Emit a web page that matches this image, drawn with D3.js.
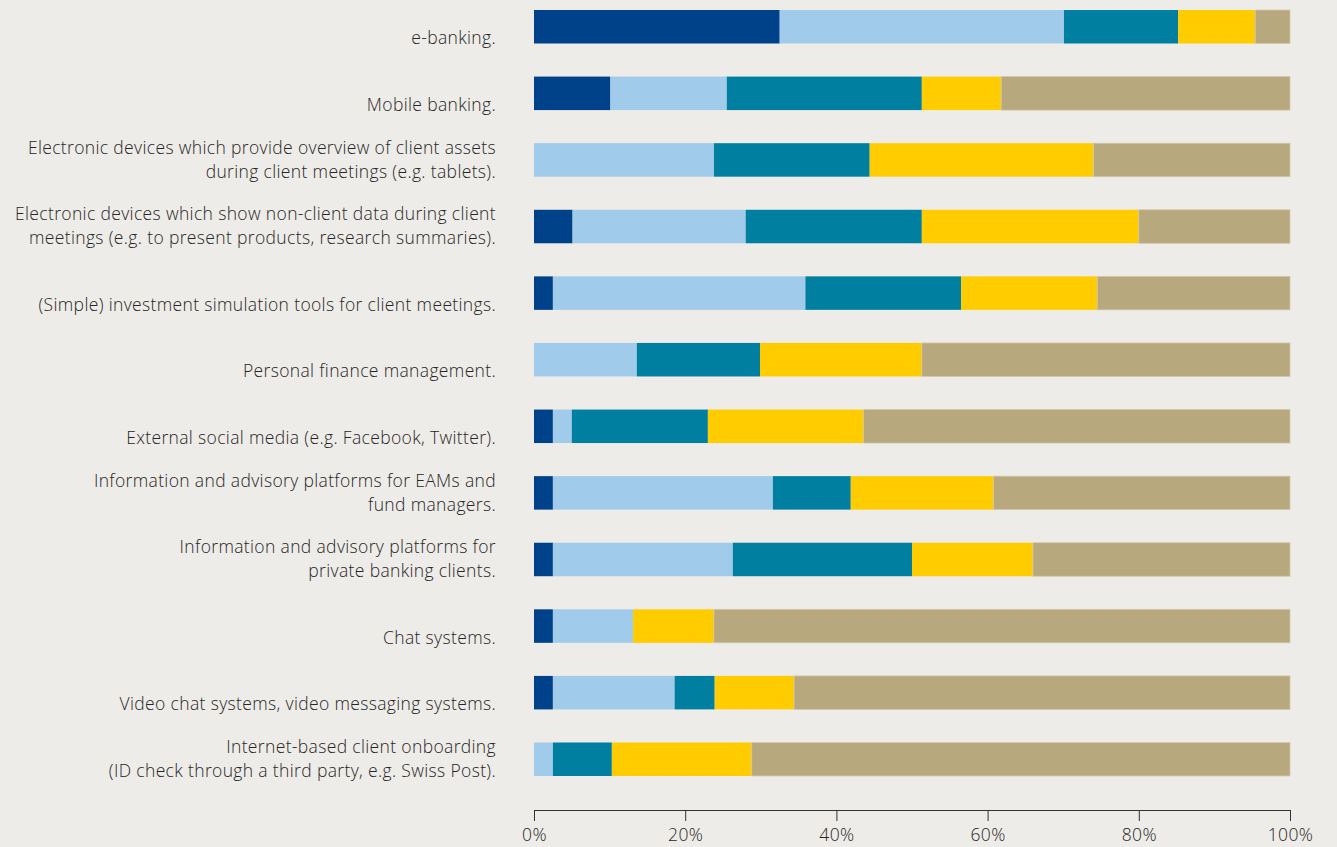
<!DOCTYPE html>
<html>
<head>
<meta charset="utf-8">
<script src="https://cdn.jsdelivr.net/npm/d3@7"></script>
<style>
  html, body { margin: 0; padding: 0; background: #eeece8; }
  svg { display: block; }
  text { font-family: "Open Sans", Roboto, sans-serif; font-weight: 300; fill: #262626; }
</style>
</head>
<body>
<svg id="chart" width="1337" height="847"></svg>
<script>
// Category labels (each entry is the list of lines shown for one bar)
const categories = [
  ["e-banking."],
  ["Mobile banking."],
  ["Electronic devices which provide overview of client assets", "during client meetings (e.g. tablets)."],
  ["Electronic devices which show non-client data during client", "meetings (e.g. to present products, research summaries)."],
  ["(Simple) investment simulation tools for client meetings."],
  ["Personal finance management."],
  ["External social media (e.g. Facebook, Twitter)."],
  ["Information and advisory platforms for EAMs and", "fund managers."],
  ["Information and advisory platforms for", "private banking clients."],
  ["Chat systems."],
  ["Video chat systems, video messaging systems."],
  ["Internet-based client onboarding", "(ID check through a third party, e.g. Swiss Post)."]
];

// Share of respondents per answer group, in percent (one value per category)
const series1 = [32.5, 10.1, 0.0, 5.1, 2.5, 0.0, 2.5, 2.5, 2.5, 2.5, 2.5, 0.0];
const series2 = [37.6, 15.4, 23.8, 22.9, 33.4, 13.6, 2.5, 29.1, 23.8, 10.6, 16.1, 2.5];
const series3 = [15.1, 25.8, 20.6, 23.3, 20.6, 16.3, 18.0, 10.3, 23.7, 0.0, 5.3, 7.8];
const series4 = [10.2, 10.5, 29.6, 28.7, 18.0, 21.4, 20.6, 18.9, 16.0, 10.7, 10.5, 18.5];
const series5 = [4.6, 38.2, 26.0, 20.0, 25.5, 48.7, 56.4, 39.2, 34.0, 76.2, 65.6, 71.2];

const seriesKeys = ["s1", "s2", "s3", "s4", "s5"];
const seriesColors = ["#004289", "#a0cbea", "#007fa0", "#ffcc00", "#b7a87d"];

const tickValues = [0, 20, 40, 60, 80, 100];
const tickLabels = ["0%", "20%", "40%", "60%", "80%", "100%"];

// Build the row table used by d3.stack
const rows = categories.map((c, i) => ({
  idx: i,
  s1: series1[i], s2: series2[i], s3: series3[i], s4: series4[i], s5: series5[i]
}));

const svg = d3.select("#chart");

const x = d3.scaleLinear().domain([0, 100]).range([534, 1290]);
const y = d3.scaleBand()
  .domain(rows.map(r => r.idx))
  .range([10, 776])
  .paddingInner(0.497)
  .paddingOuter(0)
  .align(0);

const color = d3.scaleOrdinal().domain(seriesKeys).range(seriesColors);

const stacked = d3.stack().keys(seriesKeys)(rows);

// Stacked bar segments
const layers = svg.append("g").selectAll("g")
  .data(stacked)
  .join("g")
  .attr("fill", d => color(d.key));

layers.selectAll("rect")
  .data(d => d.map(v => ({ key: d.key, v })))
  .join("rect")
  .attr("x", d => x(d.v[0]))
  .attr("y", d => y(d.v.data.idx))
  .attr("width", d => Math.max(0, x(d.v[1]) - x(d.v[0])))
  .attr("height", y.bandwidth())
  .attr("stroke", d => d.key === "s5" ? "#d2c8ad" : "none")
  .attr("stroke-width", d => d.key === "s5" ? 0.8 : 0);

// Category labels, bottom-aligned to each bar
const lineHeight = 24;
const labelSize = 17.5;
const labelSpacing = 0.35;
const labelG = svg.append("g");
rows.forEach((r, i) => {
  const lines = categories[i];
  const baseY = y(r.idx) + y.bandwidth() + 1;
  const t = labelG.append("text")
    .attr("text-anchor", "end")
    .attr("font-size", labelSize)
    .attr("letter-spacing", labelSpacing);
  lines.forEach((ln, j) => {
    t.append("tspan")
      .attr("x", 496)
      .attr("y", baseY - (lines.length - 1 - j) * lineHeight)
      .text(ln);
  });
});

// X axis
const axis = d3.axisBottom(x)
  .tickValues(tickValues)
  .tickFormat((d, i) => tickLabels[i])
  .tickSize(11)
  .tickSizeOuter(0)
  .tickPadding(8);

const axisG = svg.append("g")
  .attr("transform", "translate(0,810)")
  .call(axis);

axisG.select(".domain").attr("stroke", "#333").attr("stroke-width", 1);
axisG.selectAll(".tick line").attr("stroke", "#333").attr("stroke-width", 1);
axisG.selectAll(".tick text")
  .attr("font-family", "'Open Sans', Roboto, sans-serif")
  .attr("font-weight", 300)
  .attr("font-size", labelSize)
  .attr("letter-spacing", labelSpacing)
  .attr("fill", "#262626");
</script>
</body>
</html>
